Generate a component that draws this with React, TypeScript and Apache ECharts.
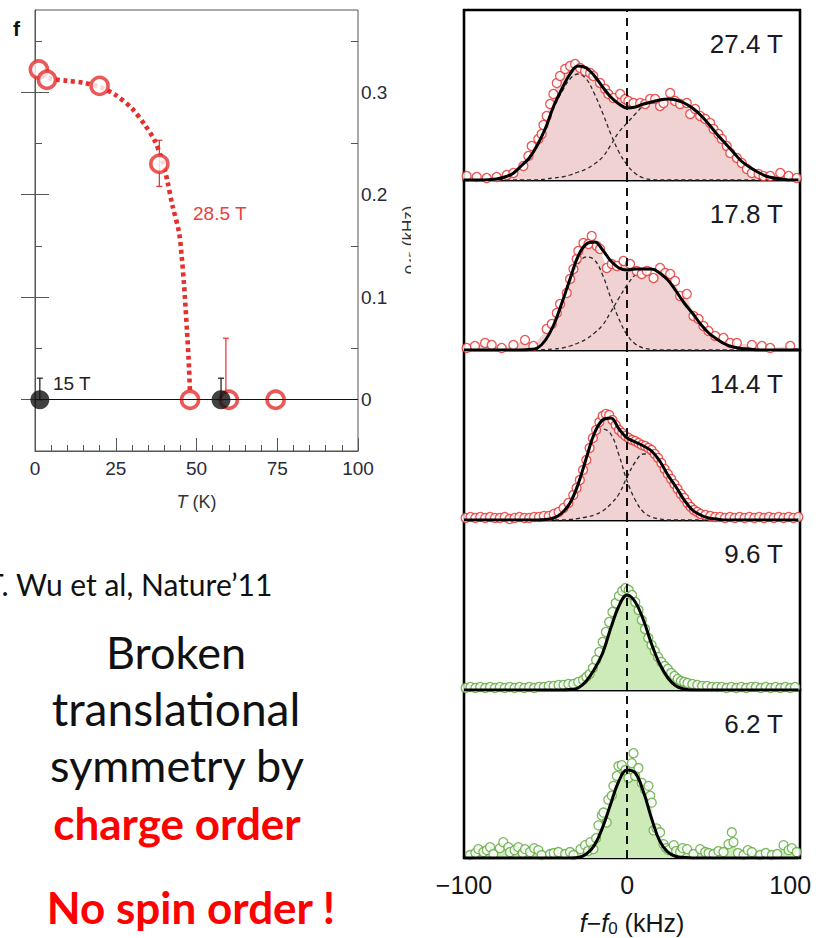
import React, { useEffect, useRef } from 'react';
import * as echarts from 'echarts';

// ---------------- Left panel (f): order parameter vs T ----------------
const T_TICKS = [0, 25, 50, 75, 100];
const Y_MAJOR = [0, 0.1, 0.2, 0.3];
const Y_MINOR = [0.05, 0.15, 0.25, 0.35];

// dotted guide curve, 28.5 T  [T (K), value]
const CURVE_285T: [number, number][] = [
  [2, 0.317], [5, 0.313], [10, 0.311], [15, 0.309], [20, 0.305], [25, 0.297],
  [30, 0.284], [34, 0.268], [37, 0.253], [39.5, 0.232], [41, 0.213], [42.5, 0.19],
  [44.6, 0.163], [45.4, 0.14], [46.1, 0.114], [47.1, 0.065], [47.7, 0.03], [48, 0.005],
];
// open red circles, 28.5 T
const OPEN_285T: [number, number][] = [
  [1.2, 0.322], [3.7, 0.312], [20, 0.306], [38.5, 0.23], [48, 0], [60, 0], [74.5, 0],
];
// filled black circles, 15 T
const FILLED_15T: [number, number][] = [[1.5, 0], [57.6, 0]];
// error bars [T, low, high]
const ERR_285T: [number, number, number][] = [[38.5, 0.208, 0.253], [59.1, 0, 0.06]];
const ERR_15T: [number, number, number][] = [[1.5, 0, 0.021], [57.6, 0, 0.021]];

// ---------------- Right panels: NMR spectra ----------------
const KHZ = [-100, -95, -90, -85, -80, -75, -70, -65, -60, -55, -50, -45, -40, -35, -30, -25, -20, -15, -10, -5, 0,
  5, 10, 15, 20, 25, 30, 35, 40, 45, 50, 55, 60, 65, 70, 75, 80, 85, 90, 95, 100, 105];
const X_LABELS = [-100, 0, 100];

// 27.4 T
const FIT_274 = [0, 0, 0, 0.003, 0.01, 0.03, 0.065, 0.14, 0.22, 0.35, 0.52, 0.74, 0.91, 1.06, 1.14, 1.12, 1.04, 0.93, 0.83, 0.76, 0.72,
  0.73, 0.76, 0.78, 0.80, 0.81, 0.80, 0.77, 0.72, 0.65, 0.56, 0.46, 0.37, 0.28, 0.19, 0.13, 0.08, 0.04, 0.02, 0.01, 0, 0];
const COMPA_274 = [0, 0, 0, 0.003, 0.01, 0.03, 0.065, 0.14, 0.22, 0.35, 0.51, 0.72, 0.88, 1.01, 1.06, 1.01, 0.86, 0.67, 0.46, 0.28, 0.15,
  0.065, 0.02, 0.005, 0, 0, 0, 0, 0, 0, 0, 0, 0, 0, 0, 0, 0, 0, 0, 0, 0, 0];
const COMPB_274 = [0, 0, 0, 0, 0, 0, 0, 0, 0, 0, 0.01, 0.02, 0.03, 0.05, 0.08, 0.11, 0.16, 0.23, 0.35, 0.48, 0.57,
  0.66, 0.74, 0.775, 0.80, 0.81, 0.80, 0.77, 0.72, 0.65, 0.56, 0.46, 0.37, 0.28, 0.19, 0.13, 0.08, 0.04, 0.02, 0.01, 0, 0];
const PTS_274: [number, number][] = [
  [-98.4, 0.04], [-92.2, 0.03], [-86.1, 0.02], [-80, 0.03], [-73.8, 0.05], [-69.7, 0.07], [-63.6, 0.14], [-60.5, 0.24],
  [-58.5, 0.34], [-54.4, 0.41], [-52.4, 0.46], [-51.3, 0.55], [-49.3, 0.64], [-47.2, 0.76], [-45.2, 0.86], [-43.1, 0.97],
  [-41.1, 1.04], [-38, 1.11], [-35, 1.14], [-31.9, 1.16], [-28.8, 1.12], [-25.8, 1.09], [-22.7, 1.07], [-20.7, 1.04],
  [-16.6, 0.97], [-13.5, 0.91], [-11.5, 0.86], [-8.4, 0.82], [-4.3, 0.86], [-1.2, 0.81], [0.8, 0.79], [3.9, 0.77],
  [8, 0.77], [11, 0.76], [14.1, 0.81], [17.2, 0.81], [20.2, 0.74], [22.3, 0.77], [26.4, 0.87], [29.4, 0.79],
  [32.5, 0.76], [36.6, 0.77], [38.7, 0.66], [41.7, 0.71], [44.8, 0.64], [47.9, 0.61], [50.9, 0.57], [53, 0.51],
  [56, 0.46], [58.1, 0.41], [61.1, 0.34], [63.2, 0.27], [67.3, 0.22], [70.3, 0.17], [73.4, 0.11], [76.5, 0.07],
  [80.6, 0.06], [83.6, 0.04], [87.7, 0.04], [93.9, 0.07], [99, 0.04], [104, 0.02],
];

// 17.8 T
const FIT_178 = [0, 0, 0, 0, 0, 0, 0, 0, 0.005, 0.02, 0.10, 0.25, 0.47, 0.71, 0.94, 1.06, 1.08, 1.00, 0.89, 0.82, 0.80,
  0.81, 0.81, 0.81, 0.77, 0.70, 0.59, 0.47, 0.37, 0.26, 0.17, 0.11, 0.06, 0.03, 0.015, 0.01, 0, 0, 0, 0, 0, 0];
const COMPA_178 = [0, 0, 0, 0, 0, 0, 0, 0, 0.005, 0.02, 0.10, 0.245, 0.46, 0.67, 0.86, 0.93, 0.90, 0.75, 0.52, 0.31, 0.15,
  0.06, 0.02, 0.005, 0, 0, 0, 0, 0, 0, 0, 0, 0, 0, 0, 0, 0, 0, 0, 0, 0, 0];
const COMPB_178 = [0, 0, 0, 0, 0, 0, 0, 0, 0, 0, 0.005, 0.01, 0.02, 0.04, 0.07, 0.11, 0.17, 0.25, 0.38, 0.52, 0.65,
  0.75, 0.79, 0.80, 0.77, 0.70, 0.59, 0.47, 0.37, 0.26, 0.17, 0.11, 0.06, 0.03, 0.015, 0.01, 0, 0, 0, 0, 0, 0];
const PTS_178: [number, number][] = [
  [-98.4, 0.02], [-93.3, 0.04], [-87.1, 0.07], [-83, 0.05], [-76.9, 0.02], [-69.7, 0.05], [-62.6, 0.10], [-57.5, 0.04],
  [-49.3, 0.21], [-46.2, 0.26], [-43.1, 0.37], [-41.1, 0.46], [-37, 0.57], [-35, 0.71], [-32.9, 0.81], [-30.9, 0.91],
  [-29.9, 0.99], [-26.8, 1.07], [-23.7, 1.06], [-21.7, 1.14], [-18.6, 1.04], [-16.6, 1.01], [-12.5, 0.82], [-9.4, 0.86],
  [-6.3, 0.84], [-2.2, 0.89], [1.8, 0.86], [5.9, 0.79], [9, 0.76], [12.1, 0.79], [16.2, 0.72], [20.2, 0.82],
  [23.3, 0.77], [26.4, 0.76], [29.4, 0.69], [32.5, 0.54], [36.6, 0.56], [40.7, 0.34], [43.8, 0.31], [46.8, 0.24],
  [49.9, 0.19], [54, 0.14], [59.1, 0.12], [63.2, 0.07], [67.3, 0.07], [76.5, 0.05], [82.6, 0.04], [87.7, 0.02], [100, 0.04],
];

// 14.4 T
const FIT_144 = [0, 0, 0, 0, 0, 0, 0, 0, 0, 0, 0.005, 0.02, 0.07, 0.17, 0.36, 0.62, 0.87, 1.00, 1.02, 0.91, 0.82,
  0.78, 0.74, 0.69, 0.59, 0.45, 0.33, 0.20, 0.10, 0.05, 0.02, 0.01, 0, 0, 0, 0, 0, 0, 0, 0, 0, 0];
const COMPA_144 = [0, 0, 0, 0, 0, 0, 0, 0, 0, 0, 0.005, 0.02, 0.07, 0.165, 0.35, 0.59, 0.82, 0.91, 0.86, 0.65, 0.39,
  0.20, 0.08, 0.03, 0.01, 0, 0, 0, 0, 0, 0, 0, 0, 0, 0, 0, 0, 0, 0, 0, 0, 0];
const COMPB_144 = [0, 0, 0, 0, 0, 0, 0, 0, 0, 0, 0, 0, 0, 0.005, 0.015, 0.03, 0.05, 0.09, 0.16, 0.26, 0.43,
  0.58, 0.66, 0.66, 0.58, 0.45, 0.33, 0.20, 0.10, 0.05, 0.02, 0.01, 0, 0, 0, 0, 0, 0, 0, 0, 0, 0];
const PTS_144: [number, number][] = [
  [-99, 0.02], [-96, 0.03], [-93, 0.02], [-90, 0.03], [-87, 0.02], [-84, 0.03], [-81, 0.02], [-78, 0.02], [-75, 0.03],
  [-72, 0.01], [-69, 0.02], [-66, 0.03], [-63, 0.02], [-60, 0.02], [-57, 0.03], [-54, 0.03], [-51, 0.04], [-48, 0.04],
  [-45, 0.06], [-42, 0.08], [-39, 0.12], [-36, 0.17], [-33, 0.25], [-31, 0.32], [-29, 0.40], [-27, 0.50], [-25, 0.60],
  [-23, 0.72], [-21, 0.82], [-19, 0.90], [-17, 0.98], [-15, 1.04], [-13, 1.06], [-11, 1.05], [-9, 1.00], [-7, 0.95],
  [-5, 0.90], [-3, 0.87], [-1, 0.84], [1, 0.82], [3, 0.80], [5, 0.79], [7, 0.77], [9, 0.75], [11, 0.74], [13, 0.72],
  [15, 0.70], [17, 0.66], [19, 0.62], [21, 0.57], [23, 0.51], [25, 0.46], [27, 0.41], [29, 0.36], [31, 0.31], [33, 0.26],
  [35, 0.22], [37, 0.17], [39, 0.13], [41, 0.10], [43, 0.08], [45, 0.06], [48, 0.05], [51, 0.04], [54, 0.03], [57, 0.03],
  [60, 0.02], [63, 0.03], [66, 0.02], [69, 0.03], [72, 0.02], [75, 0.03], [78, 0.02], [81, 0.03], [84, 0.02], [87, 0.03],
  [90, 0.02], [93, 0.03], [96, 0.02], [99, 0.03], [102, 0.02], [105, 0.03],
];

// 9.6 T
const FIT_96 = [0, 0, 0, 0, 0, 0, 0, 0, 0, 0, 0, 0, 0, 0.005, 0.02, 0.09, 0.21, 0.37, 0.62, 0.84, 0.95,
  0.88, 0.70, 0.46, 0.26, 0.12, 0.04, 0.01, 0, 0, 0, 0, 0, 0, 0, 0, 0, 0, 0, 0, 0, 0];
const PTS_96: [number, number][] = [
  [-99, 0.02], [-96, 0.03], [-93, 0.02], [-90, 0.03], [-87, 0.02], [-84, 0.03], [-81, 0.02], [-78, 0.03], [-75, 0.02],
  [-72, 0.03], [-69, 0.02], [-66, 0.03], [-63, 0.02], [-60, 0.03], [-57, 0.02], [-54, 0.03], [-51, 0.03], [-48, 0.04],
  [-45, 0.04], [-42, 0.05], [-39, 0.05], [-36, 0.06], [-33, 0.06], [-30, 0.08], [-27, 0.10], [-25, 0.13], [-23, 0.16],
  [-21, 0.22], [-19, 0.30], [-17, 0.38], [-15, 0.48], [-13, 0.58], [-11, 0.68], [-9, 0.78], [-7, 0.87], [-5, 0.94],
  [-3, 0.99], [-1, 1.02], [1, 1.00], [3, 0.95], [5, 0.88], [7, 0.80], [9, 0.70], [11, 0.61], [13, 0.52], [15, 0.45],
  [17, 0.39], [19, 0.33], [21, 0.28], [23, 0.24], [25, 0.21], [27, 0.17], [29, 0.14], [31, 0.11], [33, 0.09], [35, 0.08],
  [37, 0.07], [40, 0.06], [43, 0.05], [46, 0.04], [49, 0.04], [52, 0.03], [55, 0.03], [58, 0.03], [61, 0.02], [64, 0.03],
  [67, 0.02], [70, 0.03], [73, 0.02], [76, 0.03], [79, 0.03], [82, 0.02], [85, 0.03], [88, 0.02], [91, 0.03], [94, 0.02],
  [97, 0.03], [100, 0.02], [103, 0.03],
];

// 6.2 T
const FIT_62 = [0, 0, 0, 0, 0, 0, 0, 0, 0, 0, 0, 0, 0, 0, 0.005, 0.04, 0.13, 0.31, 0.55, 0.78, 0.89,
  0.86, 0.67, 0.40, 0.17, 0.06, 0.015, 0.005, 0, 0, 0, 0, 0, 0, 0, 0, 0, 0, 0, 0, 0, 0];
const PTS_62: [number, number][] = [
  [-96.3, 0.03], [-93, 0.05], [-91.2, 0.09], [-88.1, 0.06], [-86, 0.08], [-84, 0.11], [-82, 0.04], [-78, 0.10],
  [-75.9, 0.16], [-72.8, 0.11], [-71.8, 0.06], [-69, 0.08], [-66.7, 0.11], [-64, 0.05], [-62.6, 0.09], [-59.5, 0.06],
  [-57, 0.10], [-54.4, 0.08], [-52.4, 0.03], [-47.2, 0.04], [-45, 0.05], [-42.1, 0.06], [-38, 0.04], [-35, 0.06],
  [-32.9, 0.03], [-28.6, 0.09], [-25.8, 0.13], [-24, 0.07], [-22.5, 0.16], [-20.7, 0.09], [-19, 0.20], [-17.6, 0.33],
  [-15.5, 0.43], [-14.5, 0.46], [-12.5, 0.36], [-11.5, 0.59], [-9.4, 0.63], [-8.4, 0.73], [-6.3, 0.83], [-5.3, 0.93],
  [-3.3, 0.94], [-1, 0.89], [0.8, 0.81], [2.9, 0.96], [3.9, 1.06], [4.9, 0.83], [7, 0.91], [9, 0.76], [11, 0.69],
  [13.1, 0.73], [14.1, 0.63], [15.1, 0.56], [16.2, 0.28], [18, 0.30], [20.2, 0.26], [22.3, 0.14], [24, 0.10],
  [25.4, 0.08], [28.6, 0.13], [30, 0.07], [32.5, 0.06], [34, 0.10], [36.8, 0.09], [40.7, 0.04], [44.8, 0.09],
  [47.9, 0.06], [50, 0.05], [53, 0.04], [56, 0.07], [59.1, 0.06], [62.2, 0.14], [64.2, 0.26], [65.2, 0.16], [68, 0.05],
  [71.4, 0.03], [74, 0.08], [76.5, 0.06], [81.6, 0.03], [85, 0.05], [88.8, 0.03], [92, 0.04], [95.9, 0.13], [99, 0.08],
  [101, 0.10], [104, 0.06],
];

const PANEL_LABELS = ['27.4 T', '17.8 T', '14.4 T', '9.6 T', '6.2 T'];

const RED = '#e5302d';
const PINK_FILL = '#f0d2d2';
const GREEN = '#5ba83a';
const GREEN_FILL = '#cdebb9';
const FONT = '"Liberation Sans", Arial, sans-serif';
const SLIDE_FONT = 'Lato, "Open Sans", sans-serif';

type Panel = {
  label: string; color: string; fill: string; fit: number[]; compA?: number[]; compB?: number[]; pts: [number, number][];
};
const PANELS: Panel[] = [
  { label: PANEL_LABELS[0], color: RED, fill: PINK_FILL, fit: FIT_274, compA: COMPA_274, compB: COMPB_274, pts: PTS_274 },
  { label: PANEL_LABELS[1], color: RED, fill: PINK_FILL, fit: FIT_178, compA: COMPA_178, compB: COMPB_178, pts: PTS_178 },
  { label: PANEL_LABELS[2], color: RED, fill: PINK_FILL, fit: FIT_144, compA: COMPA_144, compB: COMPB_144, pts: PTS_144 },
  { label: PANEL_LABELS[3], color: GREEN, fill: GREEN_FILL, fit: FIT_96, pts: PTS_96 },
  { label: PANEL_LABELS[4], color: GREEN, fill: GREEN_FILL, fit: FIT_62, pts: PTS_62 },
];

function errorBarSeries(data: [number, number, number][], color: string, z: number) {
  return {
    type: 'custom',
    xAxisIndex: 0,
    yAxisIndex: 0,
    z,
    silent: true,
    encode: { x: 0, y: [1, 2] },
    data,
    renderItem: (params: any, api: any) => {
      const x = api.value(0);
      const p1 = api.coord([x, api.value(1)]);
      const p2 = api.coord([x, api.value(2)]);
      const st = { stroke: color, lineWidth: 1.2 };
      return {
        type: 'group',
        children: [
          { type: 'line', shape: { x1: p1[0], y1: p1[1], x2: p2[0], y2: p2[1] }, style: st },
          { type: 'line', shape: { x1: p2[0] - 3, y1: p2[1], x2: p2[0] + 3, y2: p2[1] }, style: st },
          { type: 'line', shape: { x1: p1[0] - 3, y1: p1[1], x2: p1[0] + 3, y2: p1[1] }, style: st },
        ],
      };
    },
  };
}

function buildOption() {
  const PANEL_TOP = 10;
  const PANEL_H = 170;

  const grids: any[] = [
    { left: 35, top: 10, width: 323, height: 441, show: true, borderColor: '#555', borderWidth: 1, backgroundColor: 'transparent' },
  ];
  PANELS.forEach((_, i) => {
    grids.push({ left: 464, top: PANEL_TOP + PANEL_H * i, width: 336, height: PANEL_H, show: true, borderColor: '#000', borderWidth: 2.6 });
  });

  const tickStyle = { color: '#555', width: 1 };
  const xAxes: any[] = [
    {
      gridIndex: 0, type: 'value', min: 0, max: 100, interval: 25, position: 'bottom',
      axisLine: { show: true, onZero: false, lineStyle: tickStyle },
      axisTick: { show: true, inside: true, length: 13, lineStyle: tickStyle, customValues: T_TICKS },
      minorTick: { show: true, splitNumber: 5, length: 6, lineStyle: tickStyle },
      axisLabel: { fontSize: 19, color: '#2a2a36', margin: 8, fontFamily: FONT, customValues: T_TICKS },
      splitLine: { show: false },
      name: '{i|T} (K)', nameLocation: 'middle', nameGap: 42,
      nameTextStyle: { fontSize: 18, color: '#333', fontFamily: FONT, rich: { i: { fontStyle: 'italic', fontSize: 18, color: '#333', fontFamily: FONT } } },
    },
  ];
  PANELS.forEach((_, i) => {
    const last = i === PANELS.length - 1;
    xAxes.push({
      gridIndex: i + 1, type: 'value', min: -100, max: 106,
      show: last,
      axisLine: { show: false, onZero: false },
      axisTick: { show: false },
      splitLine: { show: false },
      axisLabel: {
        show: last, fontSize: 25, color: '#151515', margin: 14, fontFamily: FONT, customValues: X_LABELS,
        formatter: (v: number) => (v < 0 ? '\u2212' + Math.abs(v) : String(v)),
      },
      name: last ? '{i|f}\u2212{i|f}{s|0} (kHz)' : '',
      nameLocation: 'middle', nameGap: 50,
      nameTextStyle: {
        fontSize: 25, color: '#151515', fontFamily: FONT,
        rich: {
          i: { fontStyle: 'italic', fontSize: 25, color: '#151515', fontFamily: FONT },
          s: { fontSize: 17, color: '#151515', fontFamily: FONT, verticalAlign: 'bottom', padding: [12, 0, 0, 0] },
        },
      },
    });
  });

  const yBase = { gridIndex: 0, type: 'value', min: -0.05, max: 0.38, splitLine: { show: false } };
  const yAxes: any[] = [
    {
      ...yBase, position: 'right',
      axisLine: { show: true, lineStyle: tickStyle },
      axisTick: { show: true, inside: true, length: 14, lineStyle: tickStyle, customValues: Y_MAJOR },
      axisLabel: { show: true, fontSize: 19, color: '#2a2a36', margin: 3, fontFamily: FONT, customValues: Y_MAJOR, formatter: (v: number) => String(+v.toFixed(2)) },
    },
    {
      ...yBase, position: 'right',
      axisLine: { show: false },
      axisTick: { show: true, inside: true, length: 7, lineStyle: tickStyle, customValues: Y_MINOR },
      axisLabel: { show: false },
    },
    {
      ...yBase, position: 'left',
      axisLine: { show: true, lineStyle: tickStyle },
      axisTick: { show: true, inside: true, length: 14, lineStyle: tickStyle, customValues: Y_MAJOR },
      axisLabel: { show: false },
    },
    {
      ...yBase, position: 'left',
      axisLine: { show: false },
      axisTick: { show: true, inside: true, length: 7, lineStyle: tickStyle, customValues: Y_MINOR },
      axisLabel: { show: false },
    },
  ];
  PANELS.forEach((_, i) => {
    yAxes.push({ gridIndex: i + 1, type: 'value', min: 0, max: 1.7, show: false, splitLine: { show: false } });
  });

  const series: any[] = [
    {
      type: 'line', xAxisIndex: 0, yAxisIndex: 0, data: CURVE_285T, smooth: 0.3, showSymbol: false, z: 2,
      lineStyle: { color: RED, width: 4.6, type: [4, 3.6], cap: 'butt' },
      markLine: {
        silent: true, symbol: 'none', label: { show: false },
        lineStyle: { color: '#111', width: 1.2, type: 'solid' },
        data: [{ yAxis: 0 }],
      },
    },
    errorBarSeries(ERR_285T, RED, 3),
    {
      type: 'scatter', xAxisIndex: 0, yAxisIndex: 0, data: OPEN_285T, symbol: 'circle', symbolSize: 17, z: 4,
      itemStyle: { color: '#fff', borderColor: RED, borderWidth: 3.6 },
    },
    errorBarSeries(ERR_15T, '#111', 5),
    {
      type: 'scatter', xAxisIndex: 0, yAxisIndex: 0, data: FILLED_15T, symbol: 'circle', symbolSize: 19, z: 6,
      itemStyle: { color: '#111' },
    },
  ];

  PANELS.forEach((p, i) => {
    const xi = i + 1;
    const yi = 4 + i;
    const sorted = [...p.pts].sort((a, b) => a[0] - b[0]);
    series.push({
      type: 'line', xAxisIndex: xi, yAxisIndex: yi, data: sorted, showSymbol: false, z: 1, silent: true,
      lineStyle: { width: 0, opacity: 0 }, areaStyle: { color: p.fill, opacity: 1 },
    });
    if (p.compA && p.compB) {
      [p.compA, p.compB].forEach((comp) => {
        series.push({
          type: 'line', xAxisIndex: xi, yAxisIndex: yi, data: KHZ.map((x, j) => [x, comp[j]]),
          smooth: 0.4, showSymbol: false, z: 2, silent: true,
          lineStyle: { color: '#2a2a2a', width: 1.3, type: [4, 3] },
        });
      });
    }
    series.push({
      type: 'scatter', xAxisIndex: xi, yAxisIndex: yi, data: p.pts, symbol: 'circle', symbolSize: 9, z: 3,
      itemStyle: { color: '#fff', borderColor: p.color, borderWidth: 1.3 },
    });
    series.push({
      type: 'line', xAxisIndex: xi, yAxisIndex: yi, data: KHZ.map((x, j) => [x, p.fit[j]]),
      smooth: 0.4, showSymbol: false, z: 4, silent: true,
      lineStyle: { color: '#000', width: 3 },
      markLine: {
        silent: true, symbol: 'none', label: { show: false },
        lineStyle: { color: '#111', width: 2, type: [8, 6] },
        data: [{ xAxis: 0 }],
      },
    });
  });

  const txt = (x: number, y: number, text: string, font: string, fill: string, align = 'left', extra: any = {}) => ({
    type: 'text', x, y, ...extra,
    style: { text, font, fill, align, textAlign: align, verticalAlign: 'middle', textVerticalAlign: 'middle' },
  });

  const graphics: any[] = [
    txt(13, 28, 'f', `bold 21px ${FONT}`, '#111'),
    txt(193, 213, '28.5 T', `19px ${FONT}`, '#e8423d'),
    txt(53, 383, '15 T', `19px ${FONT}`, '#222'),
    txt(408, 240, '\u03c1\u2084\u2085 (kHz)', `17px ${FONT}`, '#333', 'center', { rotation: Math.PI / 2 }),
    { type: 'rect', shape: { x: 411, y: 180, width: 46, height: 120 }, style: { fill: '#fff' }, z: 10 },
    txt(-14, 584, 'T. Wu et al, Nature\u201911', `30px ${SLIDE_FONT}`, '#111'),
    txt(176, 652, 'Broken', `45px ${SLIDE_FONT}`, '#111', 'center'),
    txt(176, 708, 'translational', `46px ${SLIDE_FONT}`, '#111', 'center'),
    txt(177, 765, 'symmetry by', `45px ${SLIDE_FONT}`, '#111', 'center'),
    txt(177, 823, 'charge order', `bold 44px ${SLIDE_FONT}`, '#ff0000', 'center'),
    txt(191, 907, 'No spin order !', `bold 44px ${SLIDE_FONT}`, '#ff0000', 'center'),
  ];
  PANELS.forEach((p, i) => {
    graphics.push(txt(783, PANEL_TOP + PANEL_H * i + 34, p.label, `26px ${FONT}`, '#1a1a26', 'right'));
  });

  return {
    animation: false,
    backgroundColor: '#fff',
    grid: grids,
    xAxis: xAxes,
    yAxis: yAxes,
    series,
    graphic: { elements: graphics },
  };
}

export default function App() {
  const ref = useRef<HTMLDivElement>(null);
  useEffect(() => {
    if (!ref.current) return;
    const chart = echarts.init(ref.current, null, { renderer: 'svg' });
    chart.setOption(buildOption() as any);
    return () => chart.dispose();
  }, []);
  return <div ref={ref} style={{ position: 'absolute', left: 0, top: 0, width: 819, height: 938 }} />;
}
